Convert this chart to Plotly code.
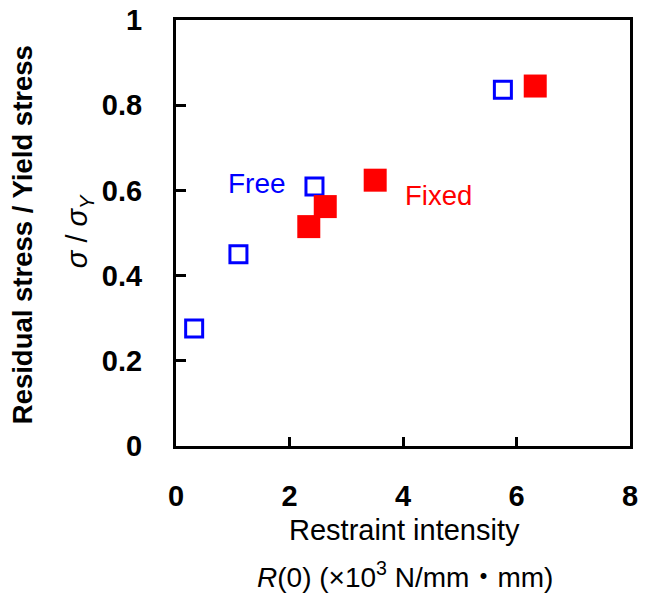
import plotly.graph_objects as go

free_x = [0.32, 1.10, 2.44, 5.76]
free_y = [0.276, 0.450, 0.609, 0.836]
fixed_x = [2.34, 2.63, 3.51, 6.33]
fixed_y = [0.515, 0.562, 0.624, 0.845]

x_ticks = [0, 2, 4, 6, 8]
y_ticks = [0, 0.2, 0.4, 0.6, 0.8, 1]

FONT = "Arial, Liberation Sans, Noto Sans CJK JP, sans-serif"
FS = 29

fig = go.Figure()
fig.add_trace(go.Scatter(
    x=free_x, y=free_y, mode="markers", name="Free",
    marker=dict(symbol="square-open", size=17, color="#0000ff",
                line=dict(width=3, color="#0000ff")),
))
fig.add_trace(go.Scatter(
    x=fixed_x, y=fixed_y, mode="markers", name="Fixed",
    marker=dict(symbol="square", size=23, color="#ff0000",
                line=dict(width=0)),
))

fig.add_annotation(x=1.42, y=0.617, xref="x", yref="y", text="Free",
                   showarrow=False, font=dict(family=FONT, size=28, color="#0000ff"))
fig.add_annotation(x=4.62, y=0.589, xref="x", yref="y", text="Fixed",
                   showarrow=False, font=dict(family=FONT, size=27.5, color="#ff0000"))

# axis titles
fig.add_annotation(x=-0.339, y=0.495, xref="paper", yref="paper",
                   text="<b>Residual stress / Yield stress</b>", textangle=-90,
                   showarrow=False, xanchor="center", yanchor="middle",
                   font=dict(family=FONT, size=27.5, color="black"))
fig.add_annotation(x=-0.213, y=0.505, xref="paper", yref="paper",
                   text="<i>σ</i> / <i>σ</i><sub><i>Y</i></sub>", textangle=-90,
                   showarrow=False, xanchor="center", yanchor="middle",
                   font=dict(family=FONT, size=FS, color="black"))
fig.add_annotation(x=0.504, y=-0.197, xref="paper", yref="paper",
                   text="Restraint intensity",
                   showarrow=False, xanchor="center", yanchor="middle",
                   font=dict(family=FONT, size=FS, color="black"))
fig.add_annotation(x=0.504, y=-0.302, xref="paper", yref="paper",
                   text="<i>R</i>(0) (×10<sup>3</sup> N/mm・mm)",
                   showarrow=False, xanchor="center", yanchor="middle",
                   font=dict(family=FONT, size=28, color="black"))

fig.update_layout(
    width=633, height=585,
    margin=dict(l=168, r=11, t=12, b=147, autoexpand=False),
    paper_bgcolor="white", plot_bgcolor="white",
    showlegend=False,
    font=dict(family=FONT, size=FS, color="black"),
)
fig.update_xaxes(
    range=[0, 8], tickvals=x_ticks, ticks="inside", ticklen=9, tickwidth=3,
    tickcolor="black", showline=True, linewidth=3, linecolor="black",
    mirror=True, showgrid=False, zeroline=False, automargin=False,
    tickfont=dict(family=FONT, size=FS, color="black", weight="bold"),
    ticklabelstandoff=22, ticklabeloverflow="allow",
)
fig.update_yaxes(
    range=[0, 1], tickvals=y_ticks, ticks="inside", ticklen=10, tickwidth=3,
    tickcolor="black", showline=True, linewidth=3, linecolor="black",
    mirror=True, showgrid=False, zeroline=False, automargin=False,
    tickfont=dict(family=FONT, size=FS, color="black", weight="bold"),
    ticklabelstandoff=25, ticklabeloverflow="allow",
)

fig.write_html("out.html")
